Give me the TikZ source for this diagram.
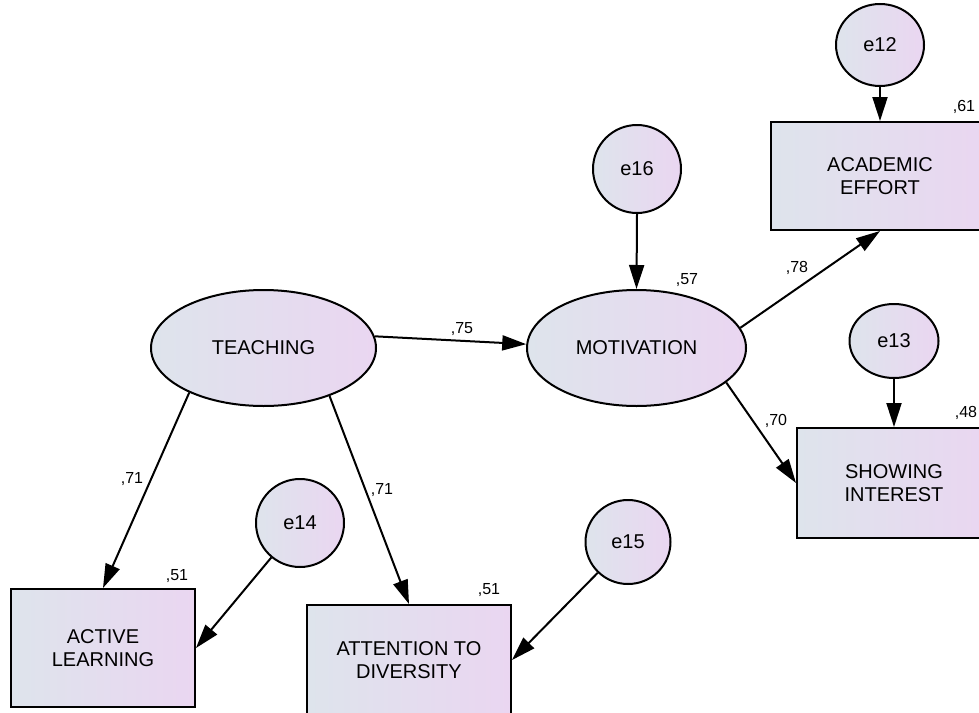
\documentclass[tikz,border=0pt]{standalone}
\usepackage{fontspec}
\setmainfont{Liberation Sans}
\usetikzlibrary{shapes.geometric,arrows.meta}
\definecolor{cL}{RGB}{222,228,236}
\definecolor{cR}{RGB}{234,214,241}
\begin{document}
\begin{tikzpicture}[x=1pt,y=-1pt,
  semfill/.style={left color=cL, right color=cR, draw=black, line width=2pt},
  latent/.style={semfill, ellipse, inner sep=0pt, font=\fontsize{20}{23}\selectfont},
  errnode/.style={semfill, ellipse, inner sep=0pt, font=\fontsize{20}{23}\selectfont},
  obs/.style={semfill, rectangle, inner sep=0pt, align=center, font=\fontsize{20}{23}\selectfont},
  arr/.style={-{Triangle[length=24pt,width=15pt]}, line width=2pt},
  val/.style={font=\fontsize{16}{18}\selectfont, inner sep=0pt}
]
\useasboundingbox (0,0) rectangle (979,712);
% latent variables
\node[latent, minimum width=225pt, minimum height=116pt] (teach) at (263.5,348) {TEACHING};
\node[latent, minimum width=219pt, minimum height=116pt] (motiv) at (636.5,348) {MOTIVATION};
% observed variables
\node[obs, minimum width=218pt, minimum height=108pt] (acad) at (880,176) {ACADEMIC\\EFFORT};
\node[obs, minimum width=194pt, minimum height=110pt] (show) at (894,483) {SHOWING\\INTEREST};
\node[obs, minimum width=184pt, minimum height=118pt] (active) at (103,648) {ACTIVE\\LEARNING};
\node[obs, minimum width=204pt, minimum height=110pt] (attn) at (409,660) {ATTENTION TO\\DIVERSITY};
% error terms
\node[errnode, minimum width=88pt, minimum height=82pt] (e12) at (880,45) {e12};
\node[errnode, minimum width=89pt, minimum height=74pt] (e13) at (894,341) {e13};
\node[errnode, minimum width=88pt, minimum height=88pt] (e16) at (637,169) {e16};
\node[errnode, minimum width=88pt, minimum height=88pt] (e14) at (300,523) {e14};
\node[errnode, minimum width=85pt, minimum height=84pt] (e15) at (628,542) {e15};
% structural paths
\draw[arr] (teach.6) -- (motiv.178);
\draw[arr] (motiv.11) -- (acad.south);
\draw[arr] (motiv.-21) -- (show.west);
\draw[arr] (teach.211) -- (active.north);
\draw[arr] (teach.-36) -- (attn.north);
% error paths
\draw[arr] (e12.south) -- (acad.north);
\draw[arr] (e16.south) -- (motiv.north);
\draw[arr] (e13.south) -- (show.north);
\draw[arr] (e14) -- (active.east);
\draw[arr] (e15) -- (attn.east);
% values
\node[val] (v61) at (964,107) {,61};
\node[val] (v57) at (687,280) {,57};
\node[val] (v78) at (797,268) {,78};
\node[val] (v75) at (462,329) {,75};
\node[val] (v48) at (966,413) {,48};
\node[val] (v70) at (776,421) {,70};
\node[val] (v71a) at (132,479) {,71};
\node[val] (v71b) at (382,490) {,71};
\node[val] (v51a) at (177,576) {,51};
\node[val] (v51b) at (489,590) {,51};
\end{tikzpicture}
\end{document}
